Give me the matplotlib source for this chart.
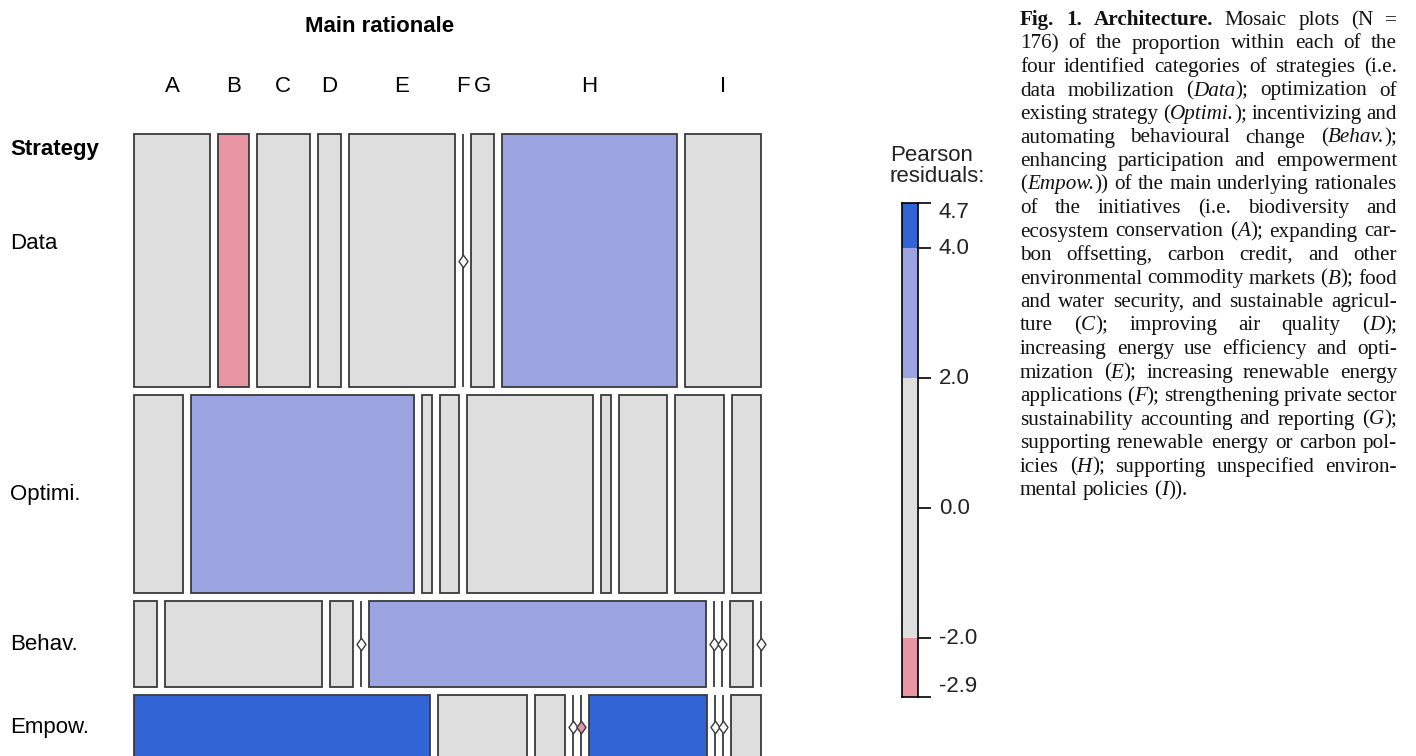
import re
import matplotlib
matplotlib.use('Agg')
import matplotlib.pyplot as plt
import matplotlib.transforms as mtransforms
from matplotlib.patches import Rectangle
from matplotlib.path import Path
import numpy as np

# ---------------- data ----------------
strategies = ['Data', 'Optimi.', 'Behav.', 'Empow.']
rationales = ['A', 'B', 'C', 'D', 'E', 'F', 'G', 'H', 'I']
data_counts = [10, 4, 7, 3, 14, 0, 3, 23, 10]
optimi_counts = [5, 23, 1, 2, 13, 1, 5, 5, 3]
behav_counts = [1, 7, 1, 0, 15, 0, 0, 1, 0]
empow_counts = [10, 3, 1, 0, 0, 4, 0, 0, 1]
legend_inner_ticks = [-2.0, 0.0, 2.0, 4.0]

caption_lines = [
    "**Fig. 1. Architecture.** Mosaic plots (N =",
    "176) of the proportion within each of the",
    "four identified categories of strategies (i.e.",
    "data mobilization (*Data*); optimization of",
    "existing strategy (*Optimi.*); incentivizing and",
    "automating behavioural change (*Behav.*);",
    "enhancing participation and empowerment",
    "(*Empow.*)) of the main underlying rationales",
    "of the initiatives (i.e. biodiversity and",
    "ecosystem conservation (*A*); expanding car-",
    "bon offsetting, carbon credit, and other",
    "environmental commodity markets (*B*); food",
    "and water security, and sustainable agricul-",
    "ture (*C*); improving air quality (*D*);",
    "increasing energy use efficiency and opti-",
    "mization (*E*); increasing renewable energy",
    "applications (*F*); strengthening private sector",
    "sustainability accounting and reporting (*G*);",
    "supporting renewable energy or carbon pol-",
    "icies (*H*); supporting unspecified environ-",
    "mental policies (*I*)).",
]

counts = np.array([data_counts, optimi_counts, behav_counts, empow_counts], dtype=float)

# ---------------- styles ----------------
W, H = 1416, 756
DPI = 100
SANS = 'Liberation Sans'
SERIF = 'Liberation Serif'
FS = 16
EDGE = '#3a3a3a'
C_DARKBLUE = '#3264d5'
C_BLUE = '#9ba4e0'
C_GREY = '#dedede'
C_PINK = '#e895a4'
C_RED = '#d2364f'

def fx(x):
    return x / W

def fy(y):
    return 1 - y / H

def shade(r):
    if r > 4:
        return C_DARKBLUE
    if r > 2:
        return C_BLUE
    if r < -4:
        return C_RED
    if r < -2:
        return C_PINK
    return C_GREY

# Pearson residuals
N = counts.sum()
row_tot = counts.sum(axis=1)
col_tot = counts.sum(axis=0)
expected = np.outer(row_tot, col_tot) / N
resid = (counts - expected) / np.sqrt(expected)

fig = plt.figure(figsize=(W / DPI, H / DPI), dpi=DPI)
fig.patch.set_facecolor('white')

# ---------------- mosaic ----------------
px_unit_w = 563.0
gap_px = 8.0
gx = gap_px / px_unit_w
px_per_count = 3.42
gy = gap_px / px_per_count
ncat = len(rationales)
x_total = 1 + (ncat - 1) * gx
y_total = N + (len(strategies) - 1) * gy

left_px, top_px = 134.0, 134.0
right_px = left_px + x_total * px_unit_w
bottom_px = top_px + y_total * px_per_count
ax = fig.add_axes([fx(left_px), fy(bottom_px), (right_px - left_px) / W,
                   (bottom_px - top_px) / H])
ax.set_xlim(0, x_total)
ax.set_ylim(y_total, 0)
ax.axis('off')

diamond = Path([(0, 1), (0.72, 0), (0, -1), (-0.72, 0), (0, 1)],
               [Path.MOVETO, Path.LINETO, Path.LINETO, Path.LINETO, Path.CLOSEPOLY])

row_centers = []
top_centers = []
y0 = 0.0
for i, name in enumerate(strategies):
    n = row_tot[i]
    x = 0.0
    for j, cat in enumerate(rationales):
        c = counts[i, j]
        w = c / n
        col = shade(resid[i, j])
        if c > 0:
            ax.add_patch(Rectangle((x, y0), w, n, facecolor=col, edgecolor=EDGE,
                                   linewidth=1.3, clip_on=False))
        else:
            ax.plot([x, x], [y0, y0 + n], color=EDGE, lw=1.3, clip_on=False,
                    solid_capstyle='butt')
            dcol = col if col != C_GREY else 'white'
            ax.plot([x], [y0 + n / 2], marker=diamond, ms=9, mfc=dcol, mec=EDGE,
                    mew=1.0, clip_on=False)
        if i == 0:
            top_centers.append(x + w / 2)
        x += w + gx
    row_centers.append(y0 + n / 2)
    y0 += n + gy

# labels
trans_top = mtransforms.blended_transform_factory(ax.transData, fig.transFigure)
for cat, xc in zip(rationales, top_centers):
    fig.text(xc, fy(86), cat, transform=trans_top, ha='center', va='center',
             fontsize=FS, family=SANS)
fig.text(fx(380), fy(27), 'Main rationale', ha='center', va='center',
         fontsize=FS, fontweight='bold', family=SANS)
fig.text(fx(10), fy(150), 'Strategy', ha='left', va='center',
         fontsize=FS, fontweight='bold', family=SANS)
trans_left = mtransforms.blended_transform_factory(fig.transFigure, ax.transData)
row_label_shift = [-5.0, 0.0, 0.0, 0.0]   # in count units
for name, yc, sh in zip(strategies, row_centers, row_label_shift):
    fig.text(fx(10), yc + sh, name, transform=trans_left, ha='left', va='center',
             fontsize=FS, family=SANS)

# ---------------- legend ----------------
rmin = round(float(resid.min()), 1)
rmax = round(float(resid.max()), 1)
bar_top, bar_bot = 202.5, 696.5
lax = fig.add_axes([fx(902), fy(bar_bot), 16 / W, (bar_bot - bar_top) / H])
lax.set_xlim(0, 1)
lax.set_ylim(rmin, rmax)
edges = [rmin] + legend_inner_ticks + [rmax]
for lo, hi in zip(edges[:-1], edges[1:]):
    mid = (lo + hi) / 2
    lax.add_patch(Rectangle((0, lo), 1, hi - lo, facecolor=shade(mid), edgecolor='none'))
for s in lax.spines.values():
    s.set_linewidth(1.2)
    s.set_color('black')
lax.set_xticks([])
lax.yaxis.tick_right()
lax.set_yticks(edges)
lax.set_yticklabels([f'{v:.1f}' for v in edges], fontsize=FS, family=SANS, color='#222222')
lax.tick_params(axis='y', length=9, width=1.2, pad=6)
labs = lax.get_yticklabels()
labs[0].set_va('bottom')
labs[-1].set_va('top')
for t in labs[1:-1]:
    t.set_va('center')

fig.text(fx(890), fy(166), 'Pearson\nresiduals:', ha='left', va='center',
         fontsize=FS, family=SANS, linespacing=0.95, color='#222222')

# ---------------- caption (justified) ----------------
renderer = fig.canvas.get_renderer()

def parse(line):
    runs = []
    for m in re.finditer(r'\*\*(.+?)\*\*|\*(.+?)\*|([^*]+)', line):
        if m.group(1) is not None:
            runs.append((m.group(1), 'bold'))
        elif m.group(2) is not None:
            runs.append((m.group(2), 'italic'))
        else:
            runs.append((m.group(3), 'normal'))
    words = [[]]
    for text, st in runs:
        parts = text.split(' ')
        for k, p in enumerate(parts):
            if k > 0:
                words.append([])
            if p:
                words[-1].append((p, st))
    return [w for w in words if w]

def props(st, size):
    d = dict(family=SERIF, fontsize=size, color='#111111')
    if st == 'bold':
        d['fontweight'] = 'bold'
    if st == 'italic':
        d['fontstyle'] = 'italic'
    return d

def width(text, st, size):
    t = fig.text(0, 0, text, **props(st, size))
    w = t.get_window_extent(renderer).width
    t.remove()
    return w

cap_left, cap_right = 1020.0, 1397.0
line_w = cap_right - cap_left
parsed = [parse(l) for l in caption_lines]

size = 16.5
while True:
    ok = True
    for words in parsed[:-1]:
        tot = sum(width(t, s, size) for w in words for t, s in w)
        if tot + (len(words) - 1) * 0.2 * size * DPI / 72 > line_w:
            ok = False
            break
    if ok or size <= 9:
        break
    size -= 0.25

base0, step = 25.0, 23.5
for li, words in enumerate(parsed):
    ws = [[(t, s, width(t, s, size)) for t, s in w] for w in words]
    wsum = [sum(r[2] for r in w) for w in ws]
    last = li == len(parsed) - 1
    if last or len(ws) == 1:
        space = 0.25 * size * DPI / 72
    else:
        space = (line_w - sum(wsum)) / (len(ws) - 1)
    x = cap_left
    yb = base0 + li * step
    for w, wt in zip(ws, wsum):
        xx = x
        for t, s, rw in w:
            fig.text(fx(xx), fy(yb), t, ha='left', va='baseline', **props(s, size))
            xx += rw
        x += wt + space

fig.savefig('out.png', dpi=DPI, facecolor='white')
